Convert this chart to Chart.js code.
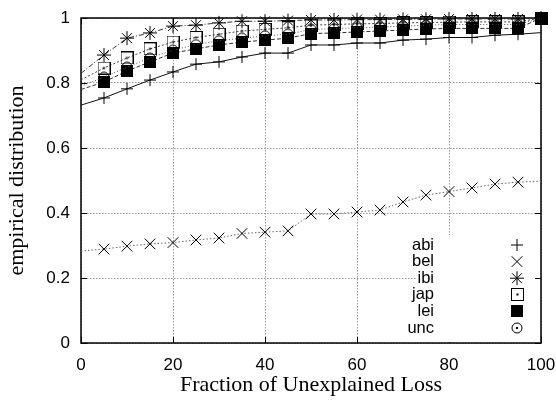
<!DOCTYPE html>
<html>
<head>
<meta charset="utf-8">
<script src="https://cdn.jsdelivr.net/npm/chart.js@4.4.1/dist/chart.umd.min.js"></script>
<style>
  html, body { margin: 0; padding: 0; background: #fff; }
  #wrap { width: 556px; height: 402px; }
</style>
</head>
<body>
<div id="wrap"><canvas id="cdfChart" width="556" height="402"></canvas></div>
<script>
// x positions (fraction of unexplained loss, %) - first point is the line start, no marker
const fractions = [0, 5, 10, 15, 20, 25, 30, 35, 40, 45, 50, 55, 60, 65, 70, 75, 80, 85, 90, 95, 100];

const abi = [0.732, 0.754, 0.782, 0.809, 0.834, 0.858, 0.865, 0.880, 0.892, 0.892, 0.917, 0.917, 0.923, 0.923, 0.932, 0.935, 0.940, 0.940, 0.947, 0.950, 0.955];
const bel = [0.283, 0.289, 0.298, 0.305, 0.309, 0.317, 0.323, 0.337, 0.341, 0.345, 0.397, 0.397, 0.403, 0.409, 0.434, 0.455, 0.466, 0.477, 0.489, 0.495, 0.498];
const ibi = [0.830, 0.886, 0.938, 0.954, 0.975, 0.978, 0.985, 0.990, 0.990, 0.992, 0.994, 0.994, 0.995, 0.995, 0.996, 0.996, 0.997, 0.997, 0.997, 0.997, 1.000];
const jap = [0.810, 0.846, 0.877, 0.905, 0.926, 0.940, 0.950, 0.960, 0.965, 0.970, 0.978, 0.980, 0.982, 0.983, 0.985, 0.986, 0.987, 0.988, 0.988, 0.988, 1.000];
const lei = [0.780, 0.803, 0.837, 0.865, 0.892, 0.905, 0.917, 0.926, 0.932, 0.938, 0.952, 0.954, 0.957, 0.960, 0.963, 0.966, 0.968, 0.968, 0.968, 0.968, 1.000];
const unc = [0.790, 0.818, 0.849, 0.877, 0.901, 0.918, 0.930, 0.938, 0.945, 0.950, 0.965, 0.967, 0.970, 0.972, 0.975, 0.978, 0.980, 0.980, 0.980, 0.980, 1.000];

const seriesNames = ['abi', 'bel', 'ibi', 'jap', 'lei', 'unc'];
const seriesValues = [abi, bel, ibi, jap, lei, unc];

const xTickValues = [0, 20, 40, 60, 80, 100];
const yTickValues = [0, 0.2, 0.4, 0.6, 0.8, 1];

// small canvases for the gnuplot-like marker shapes
function boxDot() {
    const c = document.createElement('canvas');
    c.width = 13; c.height = 13;
    const g = c.getContext('2d');
    g.strokeStyle = '#000'; g.lineWidth = 1;
    g.strokeRect(0.5, 0.5, 12, 12);
    g.fillStyle = '#000';
    g.fillRect(5.5, 5.5, 2, 2);
    return c;
}
function boxFill() {
    const c = document.createElement('canvas');
    c.width = 12; c.height = 12;
    const g = c.getContext('2d');
    g.fillStyle = '#000';
    g.fillRect(0, 0, 12, 12);
    return c;
}
function circleDot() {
    const c = document.createElement('canvas');
    c.width = 12; c.height = 12;
    const g = c.getContext('2d');
    g.strokeStyle = '#000'; g.lineWidth = 1;
    g.beginPath();
    g.arc(6, 6, 5, 0, Math.PI * 2);
    g.stroke();
    g.fillStyle = '#000';
    g.fillRect(5, 5, 2, 2);
    return c;
}

const styles = ['cross', 'crossRot', 'star', boxDot(), boxFill(), circleDot()];
const radii = [6, 7.5, 7, 6, 6, 6];
const dashes = [[], [1.5, 2], [5, 2, 1, 2], [2, 2], [4, 2], [1, 2]];
const lineColors = ['#111', '#666', '#333', '#444', '#333', '#555'];

function drawMark(ctx, style, x, y, r) {
    if (style instanceof HTMLCanvasElement) {
        ctx.drawImage(style, Math.round(x - style.width / 2), Math.round(y - style.height / 2));
        return;
    }
    ctx.beginPath();
    ctx.strokeStyle = '#000';
    ctx.lineWidth = 1;
    ctx.setLineDash([]);
    if (style === 'cross' || style === 'star') {
        ctx.moveTo(x - r, y); ctx.lineTo(x + r, y);
        ctx.moveTo(x, y - r); ctx.lineTo(x, y + r);
    }
    if (style === 'crossRot' || style === 'star') {
        const d = r * Math.SQRT1_2;
        ctx.moveTo(x - d, y - d); ctx.lineTo(x + d, y + d);
        ctx.moveTo(x - d, y + d); ctx.lineTo(x + d, y - d);
    }
    ctx.stroke();
}

const datasets = seriesNames.map((name, i) => ({
    label: name,
    data: fractions.map((x, j) => ({ x: x, y: seriesValues[i][j] })),
    pointStyle: styles[i],
    pointRadius: (c) => {
        const last = fractions.length - 1;
        if (c.dataIndex === 0) return 0;
        if (c.dataIndex === last && seriesValues[i][last] < 1) return 0;
        return radii[i];
    },
    pointHoverRadius: radii[i],
    pointBorderColor: '#000',
    pointBackgroundColor: 'rgba(0,0,0,0)',
    pointBorderWidth: 1,
    borderColor: lineColors[i],
    borderWidth: 1,
    borderDash: dashes[i],
    tension: 0,
    fill: false,
    clip: false,
    order: seriesNames.length - i // later series drawn on top, like gnuplot
}));

// frame and inward ticks (gnuplot style)
const framePlugin = {
    id: 'frame',
    beforeDatasetsDraw(chart) {
        const ctx = chart.ctx;
        const a = chart.chartArea;
        const xs = chart.scales.x, ys = chart.scales.y;
        ctx.save();
        ctx.strokeStyle = '#000';
        ctx.lineWidth = 1;
        ctx.setLineDash([]);
        ctx.beginPath();
        xTickValues.forEach(v => {
            const px = Math.round(xs.getPixelForValue(v)) + 0.5;
            ctx.moveTo(px, a.bottom); ctx.lineTo(px, a.bottom - 6);
            ctx.moveTo(px, a.top); ctx.lineTo(px, a.top + 6);
        });
        yTickValues.forEach(v => {
            const py = Math.round(ys.getPixelForValue(v)) + 0.5;
            ctx.moveTo(a.left, py); ctx.lineTo(a.left + 6, py);
            ctx.moveTo(a.right, py); ctx.lineTo(a.right - 6, py);
        });
        ctx.stroke();
        ctx.lineWidth = 1.5;
        ctx.strokeRect(a.left, a.top, a.right - a.left, a.bottom - a.top);
        ctx.restore();
    }
};

// key in the lower right corner: label right aligned, marker to its right
const keyPlugin = {
    id: 'key',
    afterDatasetsDraw(chart) {
        const ctx = chart.ctx;
        const a = chart.chartArea;
        ctx.save();
        ctx.fillStyle = '#fff';
        ctx.fillRect(a.right - 125, a.bottom - 108, 119, 107);
        ctx.font = '16.5px "Liberation Sans", Arial, sans-serif';
        ctx.textAlign = 'right';
        ctx.textBaseline = 'middle';
        seriesNames.forEach((name, i) => {
            const y = a.bottom - 98 + i * 16.6;
            ctx.fillStyle = '#000';
            ctx.fillText(name, a.right - 107, y);
            drawMark(ctx, styles[i], a.right - 24, y, radii[i]);
        });
        ctx.restore();
    }
};

document.addEventListener('DOMContentLoaded', function () {
    const ctx = document.getElementById('cdfChart').getContext('2d');
    new Chart(ctx, {
        type: 'line',
        data: { datasets: datasets },
        options: {
            responsive: false,
            animation: false,
            layout: { padding: { top: 18, right: 15, bottom: 0, left: 0 } },
            scales: {
                x: {
                    type: 'linear',
                    min: 0,
                    max: 100,
                    afterFit: (s) => { s.height = 59; s.paddingLeft = 0; s.paddingRight = 0; },
                    afterBuildTicks: (s) => { s.ticks = xTickValues.map(v => ({ value: v })); },
                    ticks: {
                        color: '#000',
                        padding: 12,
                        maxRotation: 0,
                        font: { family: 'Liberation Sans', size: 17 }
                    },
                    grid: { color: '#9a9a9a', lineWidth: 1, drawTicks: false },
                    border: { display: false, dash: [1.5, 1.5] },
                    title: {
                        display: true,
                        text: 'Fraction of Unexplained Loss',
                        color: '#000',
                        font: { family: 'Liberation Serif', size: 22 },
                        padding: { top: 0, bottom: 4 }
                    }
                },
                y: {
                    min: 0,
                    max: 1,
                    afterFit: (s) => { s.width = 81; s.paddingTop = 0; s.paddingBottom = 0; },
                    afterBuildTicks: (s) => { s.ticks = yTickValues.map(v => ({ value: v })); },
                    ticks: {
                        color: '#000',
                        padding: 11,
                        font: { family: 'Liberation Sans', size: 17 },
                        callback: (v) => String(+v.toFixed(1))
                    },
                    grid: { color: '#9a9a9a', lineWidth: 1, drawTicks: false },
                    border: { display: false, dash: [1.5, 1.5] },
                    title: {
                        display: true,
                        text: 'empirical distribution',
                        color: '#000',
                        font: { family: 'Liberation Serif', size: 22 },
                        padding: { top: 4, bottom: 0 }
                    }
                }
            },
            plugins: {
                legend: { display: false },
                tooltip: { enabled: false }
            }
        },
        plugins: [framePlugin, keyPlugin]
    });
});
</script>
</body>
</html>
